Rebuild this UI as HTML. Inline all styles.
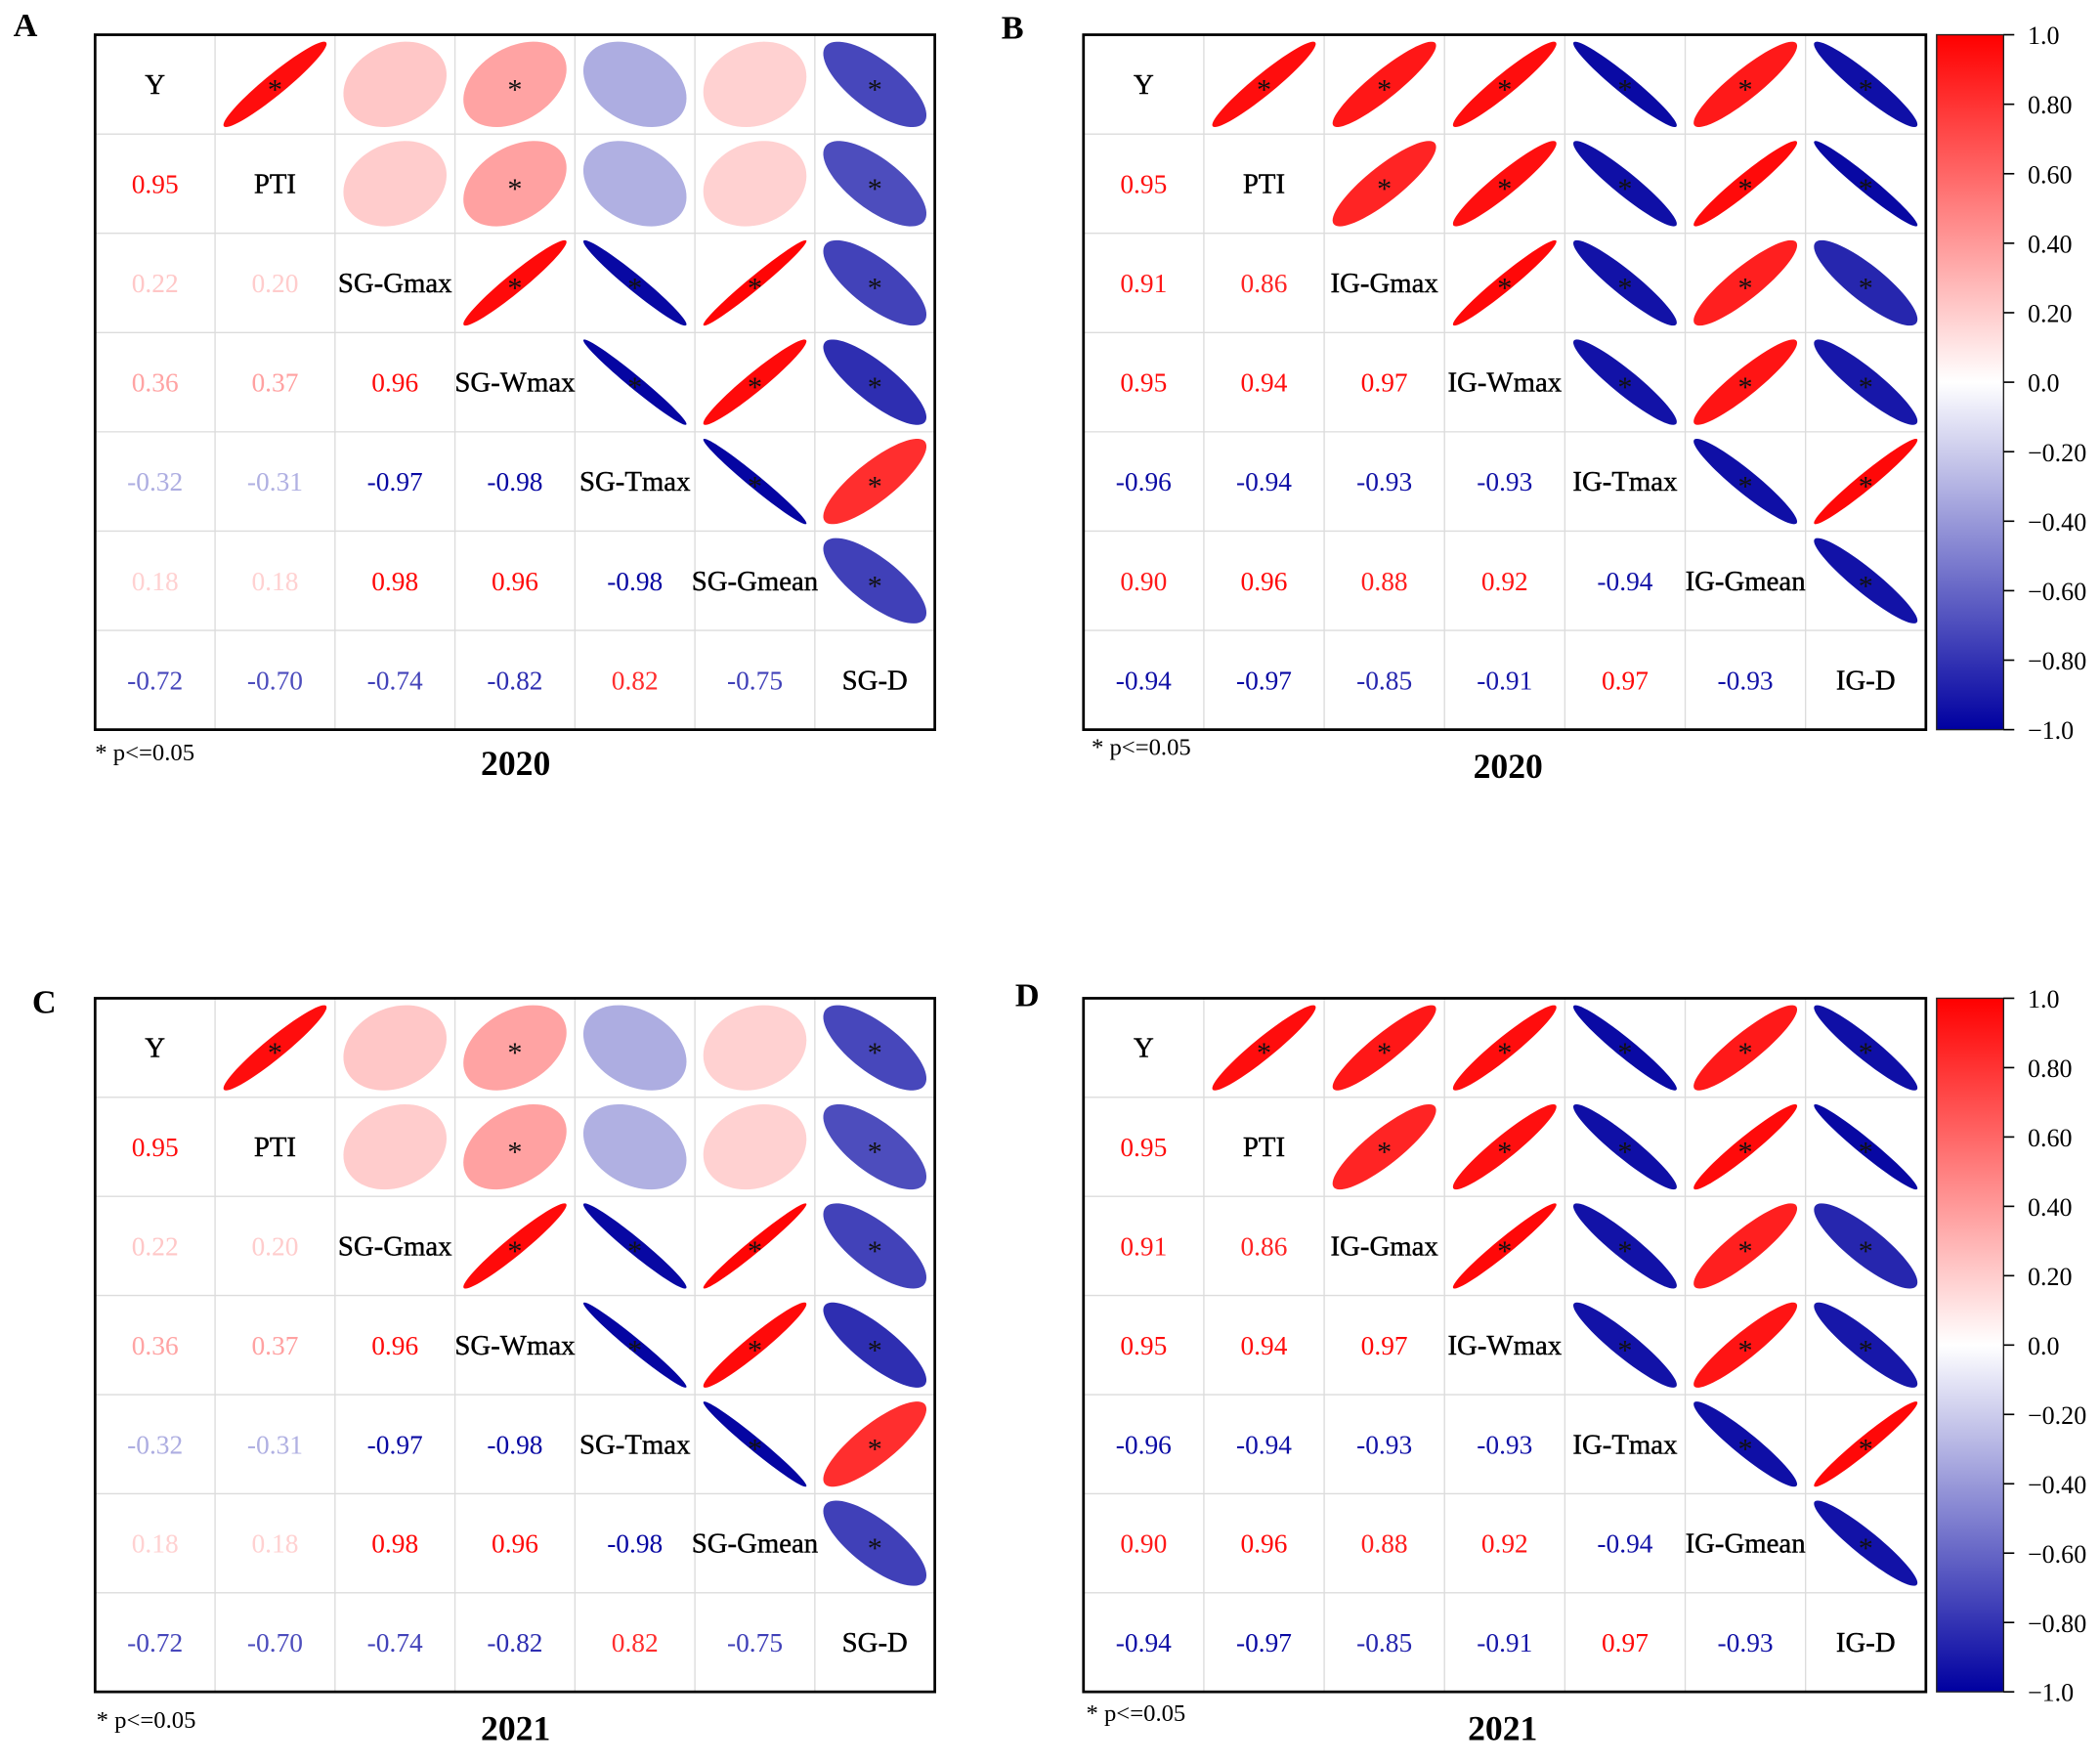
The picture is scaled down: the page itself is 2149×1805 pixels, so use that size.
<!DOCTYPE html>
<html><head><meta charset="utf-8"><title>Correlation matrices</title>
<style>
html,body{margin:0;padding:0;background:#fff;}
svg{display:block;}
text{font-family:"Liberation Serif",serif;}
</style></head>
<body>
<svg id="fig" width="2149" height="1805" viewBox="0 0 1568 1320" preserveAspectRatio="none" xmlns="http://www.w3.org/2000/svg"></svg>
<script>
// ---- data ----
const sgVars = ["Y","PTI","SG-Gmax","SG-Wmax","SG-Tmax","SG-Gmean","SG-D"];
const igVars = ["Y","PTI","IG-Gmax","IG-Wmax","IG-Tmax","IG-Gmean","IG-D"];
// lower-triangle correlations (row i, columns 0..i-1)
const sgLower = [
  [],
  [0.95],
  [0.22,0.20],
  [0.36,0.37,0.96],
  [-0.32,-0.31,-0.97,-0.98],
  [0.18,0.18,0.98,0.96,-0.98],
  [-0.72,-0.70,-0.74,-0.82,0.82,-0.75]
];
const igLower = [
  [],
  [0.95],
  [0.91,0.86],
  [0.95,0.94,0.97],
  [-0.96,-0.94,-0.93,-0.93],
  [0.90,0.96,0.88,0.92,-0.94],
  [-0.94,-0.97,-0.85,-0.91,0.97,-0.93]
];
const sigThreshold = 0.35;
const colorbarTicks = [1.0,0.8,0.6,0.4,0.2,0.0,-0.2,-0.4,-0.6,-0.8,-1.0];
const colorbarLabels = ["1.0","0.80","0.60","0.40","0.20","0.0","\u22120.20","\u22120.40","\u22120.60","\u22120.80","\u22121.0"];

const NS = "http://www.w3.org/2000/svg";
const svg = document.getElementById("fig");
function mk(tag, attrs, parent){
  const e = document.createElementNS(NS, tag);
  for (const k in attrs) e.setAttribute(k, attrs[k]);
  (parent||svg).appendChild(e);
  return e;
}
function col(r){
  const a = Math.min(1, Math.abs(r));
  let R,G,B;
  if (r >= 0){ R=255; G=Math.round(255*(1-a)); B=Math.round(255*(1-a)); }
  else { R=Math.round(255*(1-a)); G=Math.round(255*(1-a)); B=Math.round(255-a*(255-160)); }
  return `rgb(${R},${G},${B})`;
}
function corr(lower,i,j){ return i>j ? lower[i][j] : lower[j][i]; }

function panel(name, vars, lower, x0, y0, x1, y1, letter, lx, ly, pLx, pLy, year, yx, yy){
  const g = mk("g", {});
  
  
  const n = vars.length, cw = (x1-x0)/n, ch = (y1-y0)/n;
  for (let k=1;k<n;k++){
    const gl = mk("line",{x1:x0+k*cw,y1:y0,x2:x0+k*cw,y2:y1,stroke:"#dcdcdc","stroke-width":1},g);
    
    
    const gh = mk("line",{x1:x0,y1:y0+k*ch,x2:x1,y2:y0+k*ch,stroke:"#dcdcdc","stroke-width":1},g);
    
    
  }
  for (let i=0;i<n;i++){
    for (let j=0;j<n;j++){
      const cx = x0+(j+0.5)*cw, cy = y0+(i+0.5)*ch;
      if (i===j){
        const t = mk("text",{x:cx,y:cy+7,"text-anchor":"middle","font-size":21,fill:"#000","stroke":"#000","stroke-width":0.3},g);
        t.textContent = vars[i];
        
        
      } else if (i>j){
        const r = corr(lower,i,j);
        const t = mk("text",{x:cx,y:cy+7,"text-anchor":"middle","font-size":20,fill:col(r)},g);
        t.textContent = r.toFixed(2);
        
        
      } else {
        const r = corr(lower,i,j);
        const d = Math.acos(r), hw = 0.43*cw, hh = 0.43*ch;
        let p = "";
        for (let s=0;s<=72;s++){
          const tt = s/72*2*Math.PI;
          const ex = Math.cos(tt+d/2), ey = Math.cos(tt-d/2);
          p += (s?"L":"M") + (cx+ex*hw).toFixed(2) + "," + (cy-ey*hh).toFixed(2);
        }
        const el = mk("path",{d:p+"Z",fill:col(r)},g);
        
        
        if (Math.abs(r) >= sigThreshold){
          const st = mk("text",{x:cx,y:cy+11,"text-anchor":"middle","font-size":22,fill:"#111"},g);
          st.textContent = "*";
          
          
        }
      }
    }
  }
  const box = mk("rect",{x:x0,y:y0,width:x1-x0,height:y1-y0,fill:"none",stroke:"#000","stroke-width":2},g);
  
  
  const L = mk("text",{x:lx,y:ly,"text-anchor":"middle","font-size":25,"font-weight":"bold",fill:"#000"},g);
  L.textContent = letter;
  
  
  const P = mk("text",{x:pLx,y:pLy,"font-size":18,fill:"#000"},g);
  P.textContent = "* p<=0.05";
  
  
  const Y = mk("text",{x:yx,y:yy,"text-anchor":"middle","font-size":26,"font-weight":"bold",fill:"#000"},g);
  Y.textContent = year;
  
  
}

let gradCount = 0;
function colorbar(x0,y0,x1,y1){
  const g = mk("g",{});
  
  
  const id = "cb"+(gradCount++);
  const defs = mk("defs",{},g);
  const lg = mk("linearGradient",{id:id,x1:0,y1:0,x2:0,y2:1},defs);
  for (let k=0;k<=20;k++){
    const v = 1 - k/10;
    mk("stop",{offset:(k/20),"stop-color":col(v)},lg);
  }
  const r = mk("rect",{x:x0,y:y0,width:x1-x0,height:y1-y0,fill:`url(#${id})`,stroke:"#222","stroke-width":1},g);
  
  
  colorbarTicks.forEach((v,k)=>{
    const y = y0 + (1-v)/2*(y1-y0);
    const tk = mk("line",{x1:x1,y1:y,x2:x1+8,y2:y,stroke:"#000","stroke-width":1.2},g);
    
    
    const t = mk("text",{x:x1+18,y:y+7,"font-size":19,fill:"#000"},g);
    t.textContent = colorbarLabels[k];
    
    
  });
}

panel("panel-a-sg-2020", sgVars, sgLower, 71,26,698,546, "A",19,27, 71,569, "2020",385,580);
panel("panel-b-ig-2020", igVars, igLower, 809,26,1438,546, "B",756,29, 815,565, "2020",1126,582);
panel("panel-c-sg-2021", sgVars, sgLower, 71,747,698,1266, "C",33,758, 72,1293, "2021",385,1302);
panel("panel-d-ig-2021", igVars, igLower, 809,747,1438,1266, "D",767,753, 811,1288, "2021",1122,1302);
colorbar(1446,26,1496,546);
colorbar(1446,747,1496,1266);
</script>
</body></html>
